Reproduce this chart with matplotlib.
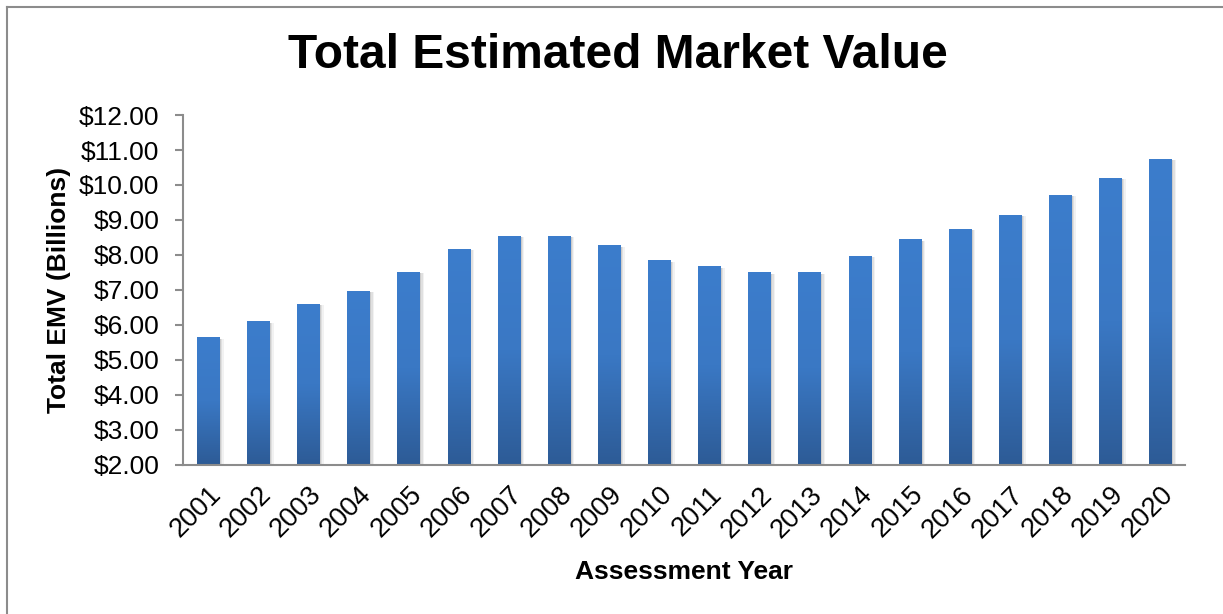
import numpy as np
import matplotlib.pyplot as plt
import matplotlib.transforms as mtransforms
from matplotlib.colors import LinearSegmentedColormap
from matplotlib.lines import Line2D

plt.rcParams['font.family'] = ['Liberation Sans', 'DejaVu Sans']

# Data (billions of dollars)
years = ['2001', '2002', '2003', '2004', '2005', '2006', '2007', '2008', '2009', '2010',
         '2011', '2012', '2013', '2014', '2015', '2016', '2017', '2018', '2019', '2020']
emv = [5.63, 6.09, 6.60, 6.97, 7.51, 8.17, 8.54, 8.54, 8.26, 7.83,
       7.66, 7.49, 7.49, 7.97, 8.43, 8.74, 9.14, 9.71, 10.20, 10.74]
y_ticks = [2, 3, 4, 5, 6, 7, 8, 9, 10, 11, 12]

fig = plt.figure(figsize=(12.23, 6.14), dpi=100)
ax = fig.add_axes([0.1496, 0.2427, 0.8197, 0.57])

# vertical gradient for bars, dark at bottom, lighter at top
grad_cmap = LinearSegmentedColormap.from_list('bar', ['#2d5b96', '#3a78c4', '#3c7dcc'])
grad = np.linspace(0, 1, 256).reshape(-1, 1)

bar_w = 0.44
base = 2.0
x = np.arange(len(years))
for xi, v in zip(x, emv):
    # soft shadow
    for k, a in zip([0.10, 0.07, 0.04], [0.05, 0.07, 0.09]):
        ax.add_patch(plt.Rectangle((xi - bar_w / 2 + k * 0.5, base), bar_w + k * 0.4, v - base - 0.03,
                                   facecolor='#000000', alpha=a, lw=0, zorder=1))
    ax.imshow(grad, cmap=grad_cmap, aspect='auto', origin='lower',
              extent=[xi - bar_w / 2, xi + bar_w / 2, base, v], zorder=2)

ax.set_xlim(-0.5, len(years) - 0.5)
ax.set_ylim(2, 12)
ax.set_yticks(y_ticks)
ax.set_yticklabels(['${:.2f}'.format(t) for t in y_ticks], fontsize=19)
ax.set_xticks(x)
ax.set_xticklabels(years, rotation=45, ha='right', va='top', rotation_mode='anchor', fontsize=19.5)
shift = mtransforms.ScaledTranslation(-8 / 100, 0, fig.dpi_scale_trans)
for lbl in ax.get_xticklabels():
    lbl.set_transform(lbl.get_transform() + shift)

for s in ['top', 'right']:
    ax.spines[s].set_visible(False)
for s in ['left', 'bottom']:
    ax.spines[s].set_color('#8c8c8c')
    ax.spines[s].set_linewidth(1.5)
ax.tick_params(axis='y', length=6, width=1.5, color='#8c8c8c', pad=11)
ax.tick_params(axis='x', length=0, pad=12)

ax.set_ylabel('Total EMV (Billions)', fontsize=19, fontweight='bold', labelpad=6)
ax.set_xlabel('Assessment Year', fontsize=19, fontweight='bold', labelpad=12)

fig.text(0.505, 0.91, 'Total Estimated Market Value', ha='center', va='center',
         fontsize=34.5, fontweight='bold')

# outer chart-area border (left and top edges visible)
fig.add_artist(Line2D([7 / 1223, 7 / 1223], [0, 1 - 7 / 614], color='#8c8c8c', lw=1.5))
fig.add_artist(Line2D([7 / 1223, 1], [1 - 7 / 614, 1 - 7 / 614], color='#8c8c8c', lw=1.5))

fig.savefig('out.png', dpi=100)
